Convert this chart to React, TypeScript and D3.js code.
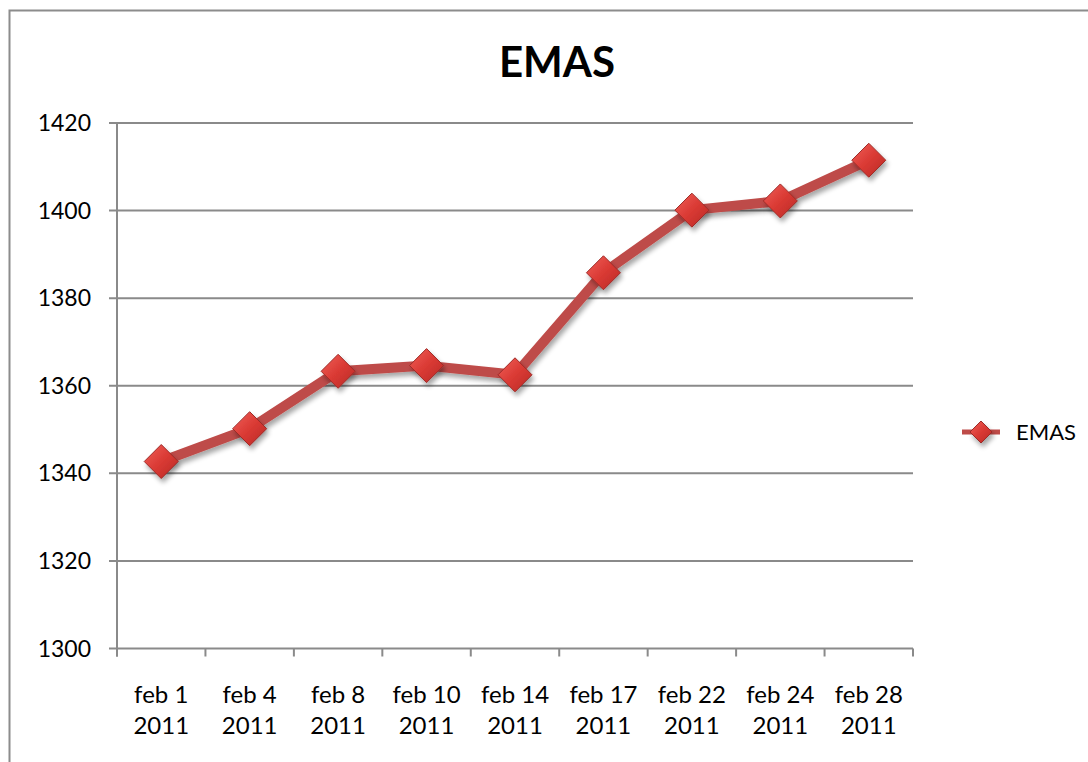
import React from "react";
import * as d3 from "d3";

const categories = ["feb 1|2011", "feb 4|2011", "feb 8|2011", "feb 10|2011", "feb 14|2011", "feb 17|2011", "feb 22|2011", "feb 24|2011", "feb 28|2011"];
const values = [1342.7, 1350.2, 1363.3, 1364.6, 1362.5, 1385.8, 1400.1, 1402.2, 1411.5];
const yTicks = [1300, 1320, 1340, 1360, 1380, 1400, 1420];
const seriesName = "EMAS";
const title = "EMAS";

const W = 1088, H = 762;
const left = 117, right = 913, top = 123, bottom = 648.5;
const FONT = "Lato, 'Open Sans', sans-serif";

export default function App() {
  const x = d3.scaleBand<string>().domain(categories).range([left, right]);
  const y = d3.scaleLinear().domain([1300, 1420]).range([bottom, top]);
  const line = d3.line<number>()
    .x((_, i) => (x(categories[i]) as number) + x.bandwidth() / 2)
    .y((d) => y(d));
  const diamond = (cx: number, cy: number, r: number) =>
    `M${cx},${cy - r}L${cx + r},${cy}L${cx},${cy + r}L${cx - r},${cy}Z`;
  const tickXs = categories.map((c) => x(c) as number).concat([right]);

  return (
    <svg width={W} height={H} style={{ position: "absolute", left: 0, top: 0, background: "#fff" }} fontFamily={FONT}>
      <defs>
        <linearGradient id="mg" x1="0" y1="0" x2="1" y2="1">
          <stop offset="0" stopColor="#F0605A" />
          <stop offset="0.5" stopColor="#DA3A34" />
          <stop offset="1" stopColor="#B82A25" />
        </linearGradient>
        <filter id="sh" x="-50%" y="-50%" width="200%" height="200%">
          <feGaussianBlur in="SourceAlpha" stdDeviation="2.5" />
          <feOffset dx="2" dy="4" result="b" />
          <feComponentTransfer><feFuncA type="linear" slope="0.35" /></feComponentTransfer>
          <feMerge><feMergeNode /><feMergeNode in="SourceGraphic" /></feMerge>
        </filter>
      </defs>
      <rect x={0} y={0} width={W} height={H} fill="#fff" />
      <rect x={9.5} y={10.5} width={W} height={H} fill="none" stroke="#8c8c8c" strokeWidth={2} />
      <text x={557} y={77} textAnchor="middle" fontSize={42} fontWeight="bold" fill="#000">{title}</text>

      {yTicks.map((t) => (
        <g key={t}>
          <line x1={left - 8} x2={right} y1={y(t)} y2={y(t)} stroke="#8a8a8a" strokeWidth={2} />
          <text x={91} y={y(t) + 8} textAnchor="end" fontSize={23} fill="#000">{t}</text>
        </g>
      ))}
      <line x1={left} x2={left} y1={top} y2={bottom + 8} stroke="#8a8a8a" strokeWidth={2} />
      {tickXs.map((tx, i) => (
        <line key={i} x1={tx} x2={tx} y1={bottom} y2={bottom + 8} stroke="#8a8a8a" strokeWidth={2} />
      ))}
      {categories.map((c) => {
        const [a, b] = c.split("|");
        const cx = (x(c) as number) + x.bandwidth() / 2;
        return (
          <text key={c} x={cx} textAnchor="middle" fontSize={24} fill="#000">
            <tspan x={cx} y={703}>{a}</tspan>
            <tspan x={cx} y={734}>{b}</tspan>
          </text>
        );
      })}

      <path d={line(values) || ""} fill="none" stroke="#BE4B48" strokeWidth={10} strokeLinejoin="round" filter="url(#sh)" />
      {values.map((v, i) => {
        const cx = (x(categories[i]) as number) + x.bandwidth() / 2;
        return <path key={i} d={diamond(cx, y(v), 17)} fill="url(#mg)" stroke="#9E2B27" strokeWidth={1} filter="url(#sh)" />;
      })}

      <line x1={962} x2={1000} y1={432} y2={432} stroke="#BE4B48" strokeWidth={5} />
      <path d={diamond(981, 432, 11)} fill="url(#mg)" stroke="#9E2B27" strokeWidth={1} filter="url(#sh)" />
      <text x={1016} y={440} fontSize={22} fill="#000">{seriesName}</text>
    </svg>
  );
}
